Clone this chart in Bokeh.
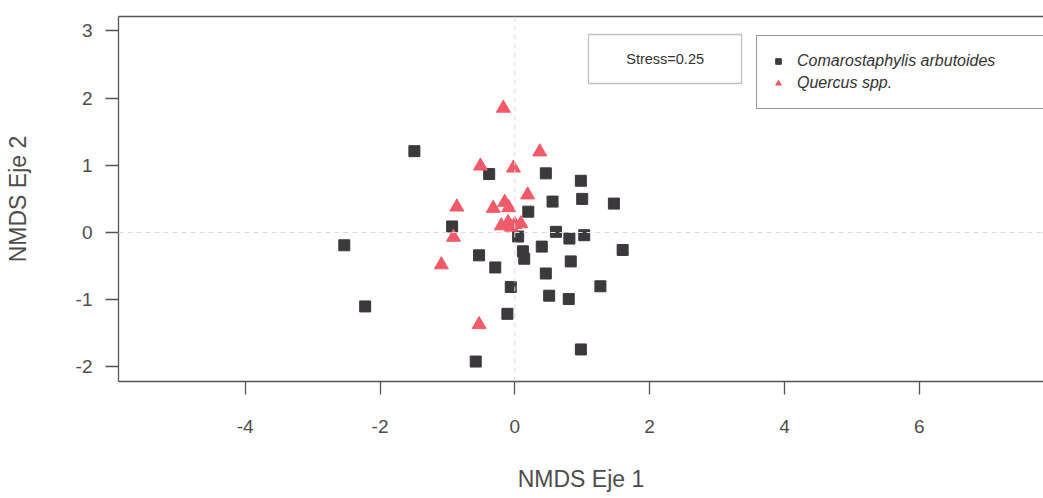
from bokeh.plotting import figure
from bokeh.models import (Span, BoxAnnotation, Label, Legend, LegendItem,
                          FixedTicker, LinearAxis, Range1d, ColumnDataSource)
from bokeh.embed import file_html
from bokeh.resources import INLINE

# ---- data ----
comar_x = [-1.49, -0.38, 0.46, 0.98, 1.00, 0.56, 1.47, 0.20, -0.93, -2.53,
           0.05, 0.61, 0.81, 1.03, 0.40, 1.60, 0.12, 0.14, -0.53, -0.29,
           0.83, 0.46, -0.06, 1.27, 0.51, 0.80, -2.22, -0.11, 0.98, -0.58]
comar_y = [1.21, 0.87, 0.88, 0.77, 0.50, 0.46, 0.43, 0.31, 0.09, -0.19,
           -0.06, 0.01, -0.09, -0.04, -0.21, -0.26, -0.28, -0.39, -0.34, -0.52,
           -0.43, -0.61, -0.81, -0.80, -0.94, -0.99, -1.10, -1.21, -1.74, -1.92]
querc_x = [-0.17, 0.37, -0.51, -0.02, 0.19, -0.86, -0.32, -0.15, -0.09,
           -0.10, -0.20, 0.00, 0.09, -0.05, -0.91, -1.09, -0.53]
querc_y = [1.85, 1.20, 0.99, 0.96, 0.56, 0.38, 0.36, 0.45, 0.37,
           0.15, 0.10, 0.12, 0.13, 0.08, -0.07, -0.48, -1.37]
x_ticks = [-4, -2, 0, 2, 4, 6]
y_ticks = [-2, -1, 0, 1, 2, 3]
series_names = ["Comarostaphylis arbutoides", "Quercus spp."]
stress = 0.25
x_title = "NMDS Eje 1"
y_title = "NMDS Eje 2"

FONT = "Liberation Sans"
AX = "#555555"
TXT = "#4d4d4d"

p = figure(width=1043, height=498,
           x_range=Range1d(-5.88, 7.844), y_range=Range1d(-2.217, 3.214),
           output_backend="svg", toolbar_location=None,
           min_border_left=118, min_border_right=0,
           min_border_top=16, min_border_bottom=117)
p.outline_line_color = None
p.grid.visible = False
p.background_fill_color = "white"

# zero reference lines
p.add_layout(Span(location=0, dimension="height", line_color="#d3dee8",
                  line_dash="5 4", line_width=1))
p.add_layout(Span(location=0, dimension="width", line_color="#d3dee8",
                  line_dash="5 4", line_width=1))

src_c = ColumnDataSource(dict(x=comar_x, y=comar_y))
src_q = ColumnDataSource(dict(x=querc_x, y=querc_y))
r1 = p.scatter("x", "y", source=src_c, marker="square", size=11,
               fill_color="#3b393b", line_color="#3b393b")
r2 = p.scatter("x", "y", source=src_q, marker="triangle", size=14,
               fill_color="#f25a6a", line_color="#f25a6a")

# axes
xa = p.xaxis[0]
xa.ticker = FixedTicker(ticks=x_ticks)
xa.major_label_overrides = {t: str(t) for t in x_ticks}
xa.axis_label = x_title
xa.major_tick_out = 13
xa.major_tick_in = 0
xa.major_label_standoff = 25
xa.axis_label_standoff = 30

ya = p.yaxis[0]
ya.ticker = FixedTicker(ticks=y_ticks)
ya.major_label_overrides = {t: str(t) for t in y_ticks}
ya.axis_label = y_title
ya.major_tick_out = 13
ya.major_tick_in = 0
ya.major_label_standoff = 13
ya.axis_label_standoff = 42

for ax in (xa, ya):
    ax.minor_tick_line_color = None
    ax.axis_line_color = AX
    ax.axis_line_width = 1.3
    ax.major_tick_line_color = AX
    ax.major_tick_line_width = 1.3
    ax.major_label_text_font = FONT
    ax.major_label_text_font_size = "19px"
    ax.major_label_text_color = TXT
    ax.axis_label_text_font = FONT
    ax.axis_label_text_font_size = "23px"
    ax.axis_label_text_font_style = "normal"
    ax.axis_label_text_color = TXT

# top frame line (box)
top = LinearAxis(ticker=FixedTicker(ticks=[]), major_tick_out=0, major_tick_in=0,
                 minor_tick_line_color=None, major_label_text_font_size="0px",
                 axis_line_color=AX, axis_line_width=1.3)
p.add_layout(top, "above")

# stress box
p.add_layout(BoxAnnotation(left=1.093, right=3.364, top=2.946, bottom=2.217,
                           fill_color="white", fill_alpha=1.0,
                           line_color="#333333", line_width=1.3))
p.add_layout(Label(x=2.23, y=2.58, text=f"Stress={stress}",
                   text_align="center", text_baseline="middle",
                   text_font=FONT, text_font_size="14.5px", text_color="#333333"))

legend = Legend(items=[LegendItem(label=series_names[0], renderers=[r1]),
                       LegendItem(label=series_names[1], renderers=[r2])],
                location=(638, 272), orientation="vertical",
                padding=14, spacing=0, margin=0,
                glyph_width=14, glyph_height=22, label_height=22,
                label_width=260, label_standoff=12,
                label_text_font=FONT, label_text_font_size="16px",
                label_text_font_style="italic", label_text_color="#333333",
                border_line_color="#333333", border_line_width=1.3,
                background_fill_color="white", background_fill_alpha=1.0)
p.add_layout(legend, "center")

open("out.html", "w").write(file_html(p, INLINE))
